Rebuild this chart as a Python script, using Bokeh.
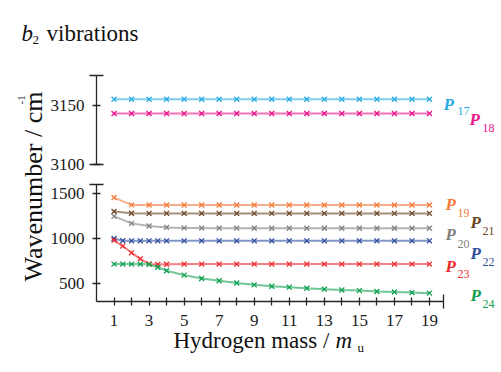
from bokeh.plotting import figure
from bokeh.models import Range1d, LinearAxis, FixedTicker, Label
from bokeh.embed import file_html
from bokeh.resources import INLINE
import math

# ---------------- data ----------------
x_int = [1, 2, 3, 4, 5, 6, 7, 8, 9, 10, 11, 12, 13, 14, 15, 16, 17, 18, 19]
x_fine = [1, 1.5, 2, 2.5, 3, 3.5, 4, 5, 6, 7, 8, 9, 10, 11, 12, 13, 14, 15, 16, 17, 18, 19]

p17 = [3155, 3155, 3155, 3155, 3155, 3155, 3155, 3155, 3155, 3155,
       3155, 3155, 3155, 3155, 3155, 3155, 3155, 3155, 3155]
p18 = [3143, 3143, 3143, 3143, 3143, 3143, 3143, 3143, 3143, 3143,
       3143, 3143, 3143, 3143, 3143, 3143, 3143, 3143, 3143]
p19 = [1455, 1373, 1372, 1372, 1372, 1372, 1372, 1372, 1372, 1372,
       1372, 1372, 1372, 1372, 1372, 1372, 1372, 1372, 1372]
p21 = [1300, 1280, 1279, 1279, 1279, 1279, 1279, 1279, 1279, 1279,
       1279, 1279, 1279, 1279, 1279, 1279, 1279, 1279, 1279]
p20 = [1246, 1168, 1139, 1123, 1118, 1116, 1115, 1115, 1114, 1114,
       1114, 1114, 1114, 1114, 1114, 1114, 1114, 1114, 1114]
p22 = [1000, 975, 974, 974, 974, 974, 974, 974, 974, 974, 974,
       974, 974, 974, 974, 974, 974, 974, 974, 974, 974, 974]
p23 = [980, 916, 841, 774, 718, 712, 714, 716, 716, 716, 716,
       716, 716, 716, 716, 716, 716, 716, 716, 716, 716, 716]
p24 = [716, 716, 716, 716, 713, 680, 642, 593, 556, 530, 505,
       485, 470, 459, 447, 437, 428, 421, 411, 406, 399, 393]

x_ticks = [1, 2, 3, 4, 5, 6, 7, 8, 9, 10, 11, 12, 13, 14, 15, 16, 17, 18, 19]
x_tick_labels = {i: (str(i) if i % 2 == 1 else "") for i in x_ticks}
low_ticks = [500, 1000, 1500]
up_ticks = [3100, 3150]

col = {
    "17": "#29abe2", "18": "#e9168c", "19": "#f47a3a", "20": "#808080",
    "21": "#6b4423", "22": "#2f4ea0", "23": "#ee2a2e", "24": "#10a050",
}

# ---------------- layout geometry (px) ----------------
W, H = 501, 372
FL, FR, FB = 96, 443, 301                   # axis corner / x axis end
X_LO, X_HI = 0, 19.8
LOW_LO, LOW_HI, LOW_HI_PX = 300, 1600, 184  # lower panel (bottom at FB)
UP_LO, UP_HI, UP_LO_PX, UP_HI_PX = 3100, 3175, 164, 75  # upper panel

xpp = (FR - FL) / (X_HI - X_LO)
lpp = (FB - LOW_HI_PX) / (LOW_HI - LOW_LO)
upp = (UP_LO_PX - UP_HI_PX) / (UP_HI - UP_LO)

p = figure(width=W, height=H, output_backend="svg", toolbar_location=None,
           x_range=Range1d(X_LO - FL / xpp, X_LO + (W - FL) / xpp),
           y_range=Range1d(LOW_LO - (H - FB) / lpp, LOW_LO + FB / lpp),
           min_border=0, min_border_left=0, min_border_right=0,
           min_border_top=0, min_border_bottom=0,
           x_axis_type=None, y_axis_type=None,
           outline_line_color=None, background_fill_color="white",
           border_fill_color="white")
p.grid.visible = False
p.extra_y_ranges = {"upper": Range1d(UP_LO - (H - UP_LO_PX) / upp, UP_LO + UP_LO_PX / upp)}

AX = "#262626"
FONT = "'Liberation Serif', 'Times New Roman', serif"


def style(ax):
    ax.axis_line_color = AX
    ax.axis_line_width = 1.3
    ax.major_tick_line_color = AX
    ax.minor_tick_line_color = AX
    ax.major_tick_line_width = 1.3
    ax.minor_tick_line_width = 1.3
    ax.major_label_text_font = FONT
    ax.major_label_text_font_size = "17px"
    ax.major_label_text_color = "#1a1a1a"
    ax.major_tick_in = 4
    ax.major_tick_out = 4
    ax.minor_tick_in = 7
    ax.minor_tick_out = 7
    ax.major_label_standoff = 5


ylow = LinearAxis(bounds=(LOW_LO, LOW_HI), fixed_location=X_LO,
                  ticker=FixedTicker(ticks=low_ticks, minor_ticks=[LOW_HI]))
style(ylow)
p.add_layout(ylow, "left")

yup = LinearAxis(y_range_name="upper", bounds=(UP_LO, UP_HI), fixed_location=X_LO,
                 ticker=FixedTicker(ticks=up_ticks, minor_ticks=[UP_LO, UP_HI]))
style(yup)
p.add_layout(yup, "left")

xax = LinearAxis(bounds=(X_LO, X_HI), fixed_location=LOW_LO,
                 ticker=FixedTicker(ticks=x_ticks, minor_ticks=[X_HI]))
style(xax)
xax.major_label_standoff = 6
xax.major_label_overrides = x_tick_labels
p.add_layout(xax, "below")

# ---------------- series ----------------
series = [
    (x_int, p17, "17", "upper"), (x_int, p18, "18", "upper"),
    (x_int, p19, "19", None), (x_int, p21, "21", None), (x_int, p20, "20", None),
    (x_fine, p22, "22", None), (x_fine, p23, "23", None), (x_fine, p24, "24", None),
]
for xs, ys, key, rn in series:
    kw = {"y_range_name": rn} if rn else {}
    p.line(xs, ys, line_color=col[key], line_width=2, line_alpha=0.6, **kw)
    p.scatter(xs, ys, marker="x", size=7, line_color=col[key], line_width=1.3, **kw)


# ---------------- texts (global px; frame == canvas) ----------------
def lab(text, gx, gy, size, color="#111111", style_="normal", angle=0.0, align="left"):
    p.add_layout(Label(x=gx, y=H - gy, x_units="screen", y_units="screen",
                       text=text, text_font=FONT, text_font_size=f"{size}px",
                       text_font_style=style_, text_color=color, angle=angle,
                       text_align=align, text_baseline="alphabetic"))


# title
lab("b", 21, 33, 23, style_="italic")
lab("2", 32, 39, 13)
lab("vibrations", 46, 33, 23)

# y axis title (rotated)
lab("Wavenumber / cm", 33, 281, 26, angle=math.pi / 2)
lab("-1", 21, 104, 11, angle=math.pi / 2)

# x axis title
lab("Hydrogen mass / ", 173, 340, 23)
lab("m", 335, 340, 23, style_="italic")
lab("u", 357, 347, 13)

# series labels
plabels = [
    ("17", 443, 104, 457, 110), ("18", 469, 119, 482, 127),
    ("19", 445, 204, 457, 212), ("21", 470, 222, 482, 230),
    ("20", 445, 234, 457, 243), ("22", 470, 253, 482, 261),
    ("23", 445, 266, 457, 273), ("24", 470, 295, 482, 303),
]
for key, px, py, sx, sy in plabels:
    lab("P", px, py, 17, color=col[key], style_="bold italic")
    lab(key, sx, sy, 12, color=col[key])

open("out.html", "w").write(file_html(p, INLINE))
